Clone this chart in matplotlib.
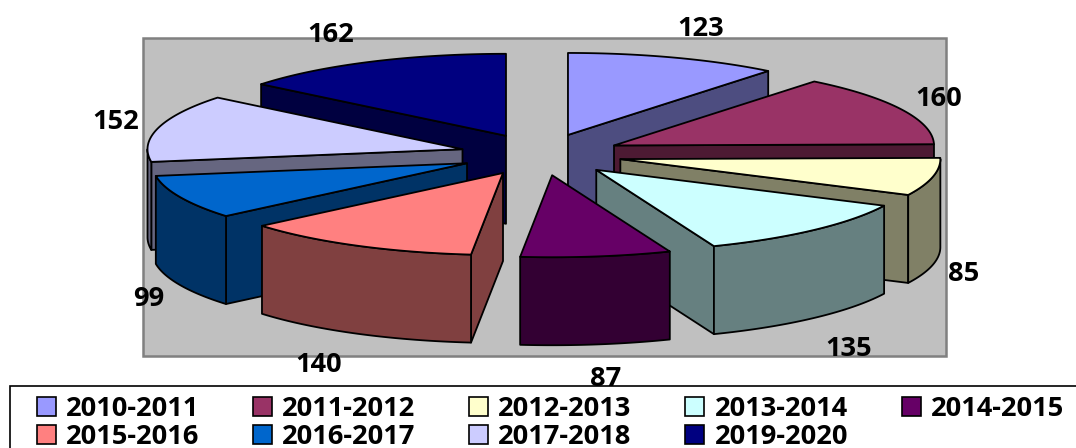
import numpy as np
import matplotlib
matplotlib.use("Agg")
import matplotlib.pyplot as plt
from matplotlib.patches import Patch, Polygon, Rectangle

periods = ["2010-2011", "2011-2012", "2012-2013", "2013-2014", "2014-2015",
           "2015-2016", "2016-2017", "2017-2018", "2019-2020"]
values = [123, 160, 85, 135, 87, 140, 99, 152, 162]
colors = ["#9999FF", "#993366", "#FFFFCC", "#CCFFFF", "#660066",
          "#FF8080", "#0066CC", "#CCCCFF", "#000080"]

# where the value labels sit (pixels)
label_x = [701, 939, 964, 849, 606, 319, 149, 116, 331]
label_y = [29, 99, 274, 349, 379, 365, 299, 122, 35]

# pie geometry in pixels
cx, cy = 541, 154.6
rx, rx_left, ry = 320, 315, 82
depth = 88
explode = 0.254
# back to front
draw_order = [8, 0, 7, 1, 6, 2, 5, 3, 4]

plt.rcParams["font.family"] = ["Open Sans", "DejaVu Sans"]
plt.rcParams["font.weight"] = "bold"
fsize = 19.6

fig = plt.figure(figsize=(10.76, 4.48), dpi=100)
ax = fig.add_axes([0, 0, 1, 1])
ax.set_xlim(0, 1076)
ax.set_ylim(448, 0)
ax.axis("off")

ax.add_patch(Rectangle((143, 38), 803, 318, fc="#C0C0C0", ec="#808080", lw=1.8, zorder=1))


def darker(c):
    return tuple(v * 0.5 for v in matplotlib.colors.to_rgb(c))


def arc(x0, y0, a1, a2):
    # angles clockwise from 12 o'clock, degrees
    t = np.radians(np.linspace(a1, a2, 60))
    s = np.sin(t)
    return np.column_stack([x0 + np.where(s < 0, rx_left, rx) * s, y0 - ry * np.cos(t)])


edges = np.concatenate([[0], np.cumsum(values)]) / sum(values) * 360
z = 2
for i in draw_order:
    a1, a2 = edges[i], edges[i + 1]
    mid = np.radians((a1 + a2) / 2)
    x0 = cx + explode * rx * np.sin(mid)
    y0 = cy - explode * ry * np.cos(mid)
    side = darker(colors[i])

    # radial walls, only the ones facing the viewer
    for ang, show in ((a1, a1 > 180), (a2, a2 < 180)):
        if show:
            p = arc(x0, y0, ang, ang)[0]
            wall = [(x0, y0), p, (p[0], p[1] + depth), (x0, y0 + depth)]
            ax.add_patch(Polygon(wall, fc=side, ec="black", lw=1.3, joinstyle="round", zorder=z))
            z += 1

    # outer wall, front half only
    f1, f2 = max(a1, 90), min(a2, 270)
    if f1 < f2:
        top = arc(x0, y0, f1, f2)
        bottom = top[::-1] + [0, depth]
        ax.add_patch(Polygon(np.vstack([top, bottom]), fc=side, ec="black", lw=1.3,
                             joinstyle="round", zorder=z))
        z += 1

    pts = np.vstack([[(x0, y0)], arc(x0, y0, a1, a2)])
    ax.add_patch(Polygon(pts, fc=colors[i], ec="black", lw=1.3, joinstyle="round", zorder=z))
    z += 1

# legend frame runs off the right and bottom of the picture
ax.add_patch(Rectangle((9.5, 386.5), 1100, 100, fc="white", ec="black", lw=1.2, zorder=z))

for v, x, y in zip(values, label_x, label_y):
    ax.text(x, y, str(v), ha="center", va="center", fontsize=fsize, color="black",
            fontweight="bold", zorder=z + 2)

# legend fills column by column, reference reads row by row
rows = [list(range(0, 5)), list(range(5, 9))]
order = []
for c in range(5):
    for r in rows:
        if c < len(r):
            order.append(r[c])
handles = [Patch(fc=colors[i], ec="black", lw=1.2, label=periods[i]) for i in order]
leg = ax.legend(handles=handles, ncol=5, frameon=False, fontsize=fsize,
                loc="upper left", bbox_to_anchor=(37, 396.5), bbox_transform=ax.transData,
                borderpad=0, borderaxespad=0, labelspacing=0.05, handlelength=0.7,
                handleheight=0.7, handletextpad=0.37, columnspacing=1.97)
leg.set_zorder(z + 1)

fig.savefig("out.png", dpi=100)
